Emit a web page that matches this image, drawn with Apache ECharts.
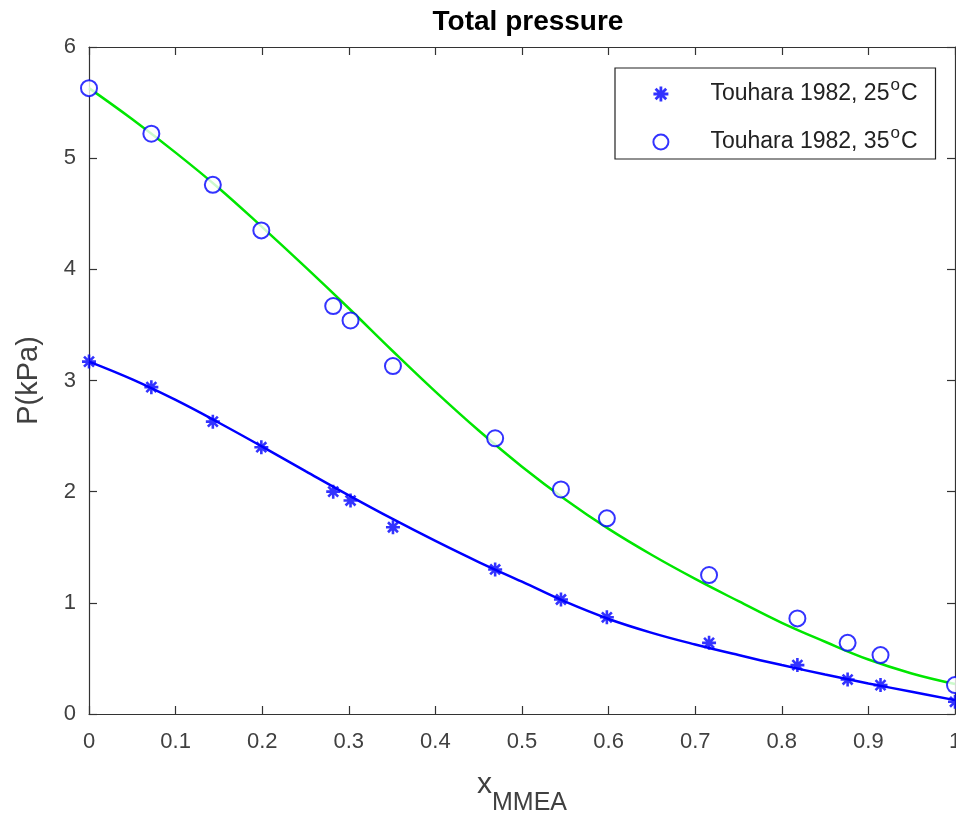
<!DOCTYPE html>
<html>
<head>
<meta charset="utf-8">
<script src="https://cdn.jsdelivr.net/npm/echarts@6/dist/echarts.min.js"></script>
<style>html,body{margin:0;padding:0;background:#fff}#c{width:956px;height:814px}</style>
</head>
<body>
<div id="c"></div>
<script>
// Measured data (x = mole fraction MMEA, P in kPa)
const xData = [0, 0.072, 0.143, 0.199, 0.282, 0.302, 0.351, 0.469, 0.545, 0.598, 0.716, 0.818, 0.876, 0.914, 1.0];
const p25 = [3.17, 2.94, 2.63, 2.40, 2.00, 1.92, 1.68, 1.30, 1.03, 0.87, 0.64, 0.44, 0.31, 0.26, 0.11];
const p35 = [5.63, 5.22, 4.76, 4.35, 3.67, 3.54, 3.13, 2.48, 2.02, 1.76, 1.25, 0.86, 0.64, 0.53, 0.26];
// Model curves
const xFit = [0, 0.05, 0.1, 0.15, 0.2, 0.25, 0.3, 0.35, 0.4, 0.45, 0.5, 0.55, 0.6, 0.65, 0.7, 0.75, 0.8, 0.85, 0.9, 0.95, 1.0];
const fit25 = [3.17, 3.01, 2.825, 2.62, 2.405, 2.185, 1.967, 1.757, 1.557, 1.367, 1.19, 1.01, 0.855, 0.73, 0.625, 0.53, 0.44, 0.355, 0.275, 0.2, 0.125];
const fit35 = [5.63, 5.35, 5.05, 4.73, 4.38, 4.02, 3.65, 3.27, 2.90, 2.55, 2.225, 1.93, 1.665, 1.43, 1.215, 1.015, 0.82, 0.65, 0.49, 0.365, 0.27];
const xTicks = [0, 0.1, 0.2, 0.3, 0.4, 0.5, 0.6, 0.7, 0.8, 0.9, 1];
const yTicks = [0, 1, 2, 3, 4, 5, 6];
const names = ['Touhara 1982, 25{sup|o}C', 'Touhara 1982, 35{sup|o}C'];

const zip = (a, b) => a.map((v, i) => [v, b[i]]);
const starPath = 'path://M0,-10L0,10M-10,0L10,0M-7.1,-7.1L7.1,7.1M-7.1,7.1L7.1,-7.1';
const axisColor = '#333333';
const labelColor = '#404040';
const font = 'Liberation Sans, Arial, sans-serif';

const chart = echarts.init(document.getElementById('c'), null, {renderer: 'canvas'});
const xAxisBase = {
  type: 'value', min: 0, max: 1, interval: 0.1,
  axisLine: {show: true, onZero: false, lineStyle: {color: axisColor, width: 1.2}},
  axisTick: {show: true, inside: true, length: 8, lineStyle: {color: axisColor, width: 1.2}},
  splitLine: {show: false}
};
const yAxisBase = {
  type: 'value', min: 0, max: 6, interval: 1,
  axisLine: {show: true, onZero: false, lineStyle: {color: axisColor, width: 1.2}},
  axisTick: {show: true, inside: true, length: 8, lineStyle: {color: axisColor, width: 1.2}},
  splitLine: {show: false}
};
chart.setOption({
  animation: false,
  backgroundColor: '#fff',
  title: {
    text: 'Total pressure', left: 523, textAlign: 'center', top: 3,
    textStyle: {fontFamily: font, fontSize: 28, fontWeight: 'bold', color: '#000'}
  },
  grid: {left: 89, right: 1, top: 47, bottom: 100, containLabel: false, outerBoundsMode: 'none'},
  xAxis: [
    Object.assign({}, xAxisBase, {
      position: 'bottom',
      axisLabel: {color: labelColor, fontSize: 22, fontFamily: font, margin: 17,
        formatter: v => xTicks.includes(+v.toFixed(1)) ? String(+v.toFixed(1)) : ''},
      name: '{x|x}{sub|MMEA}', nameLocation: 'middle', nameGap: 56,
      nameTextStyle: {rich: {
        x: {fontSize: 30, fontFamily: font, color: labelColor, verticalAlign: 'bottom', padding: [0, 0, 16, 0]},
        sub: {fontSize: 25, fontFamily: font, color: labelColor, verticalAlign: 'bottom'}
      }}
    }),
    Object.assign({}, xAxisBase, {position: 'top', axisLabel: {show: false}})
  ],
  yAxis: [
    Object.assign({}, yAxisBase, {
      position: 'left',
      axisLabel: {color: labelColor, fontSize: 22, fontFamily: font, margin: 13,
        formatter: v => yTicks.includes(v) ? String(v) : ''},
      name: 'P(kPa)', nameLocation: 'middle', nameGap: 46, nameRotate: 90,
      nameTextStyle: {fontSize: 29, fontFamily: font, color: labelColor}
    }),
    Object.assign({}, yAxisBase, {position: 'right', axisLabel: {show: false}})
  ],
  legend: {
    data: [{name: names[0], icon: starPath}, {name: names[1], icon: 'emptyCircle'}],
    orient: 'vertical', left: 615, top: 68,
    padding: [9, 18, 5, 37],
    itemGap: 19, itemWidth: 15, itemHeight: 15,
    backgroundColor: '#fff', borderColor: '#222', borderWidth: 1.2, borderRadius: 0,
    itemStyle: {borderWidth: 2.8},
    textStyle: {fontFamily: font, fontSize: 23, lineHeight: 24, color: '#222', padding: [0, 0, 0, 37],
      rich: {sup: {fontSize: 17, fontFamily: font, color: '#222', verticalAlign: 'bottom', lineHeight: 17, padding: [0, 1, 12, 1]}}},
    selectedMode: false
  },
  series: [
    {type: 'line', data: zip(xFit, fit25), smooth: 0.4, showSymbol: false, silent: true,
      lineStyle: {color: '#0000ff', width: 2.5}, z: 2},
    {type: 'line', data: zip(xFit, fit35), smooth: 0.4, showSymbol: false, silent: true,
      lineStyle: {color: '#00e600', width: 2.5}, z: 2},
    {type: 'scatter', name: names[0], data: zip(xData, p25), symbol: starPath, symbolSize: 14,
      itemStyle: {color: '#0000ff', borderColor: '#0000ff', borderWidth: 2.6}, z: 3, clip: false},
    {type: 'scatter', name: names[1], data: zip(xData, p35), symbol: 'emptyCircle', symbolSize: 16,
      itemStyle: {color: '#0000ff', borderColor: '#0000ff', borderWidth: 2.3}, z: 3, clip: false}
  ]
});
</script>
</body>
</html>
